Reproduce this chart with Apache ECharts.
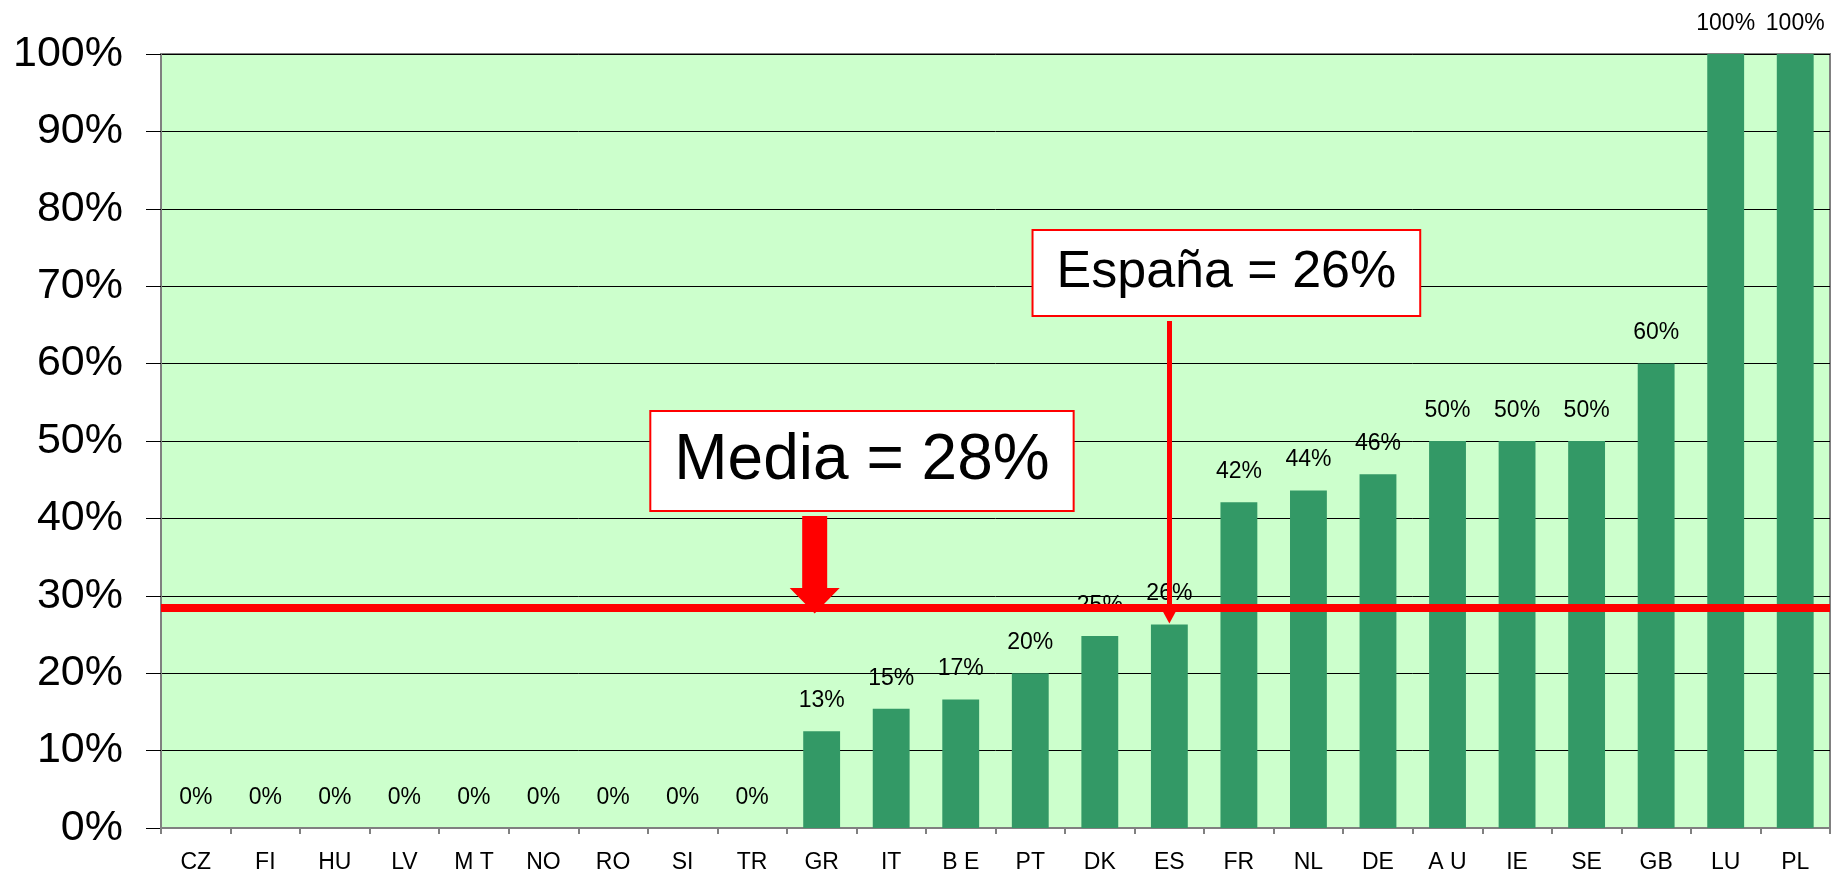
<!DOCTYPE html>
<html>
<head>
<meta charset="utf-8">
<script src="https://cdn.jsdelivr.net/npm/echarts@6/dist/echarts.min.js"></script>
<style>
  html, body { margin: 0; padding: 0; background: #fff; }
  #chart { width: 1833px; height: 874px; }
</style>
</head>
<body>
<div id="chart"></div>
<script>
// países, ordenados de menor a mayor
const countries = ['CZ', 'FI', 'HU', 'LV', 'M T', 'NO', 'RO', 'SI', 'TR', 'GR', 'IT', 'B E',
  'PT', 'DK', 'ES', 'FR', 'NL', 'DE', 'A U', 'IE', 'SE', 'GB', 'LU', 'PL'];
// porcentaje por país
const values = [0, 0, 0, 0, 0, 0, 0, 0, 0, 12.5, 15.4, 16.6,
  20, 24.8, 26.3, 42.1, 43.6, 45.7, 50, 50, 50, 60, 100, 100];
// marcas del eje y
const yTicks = [0, 10, 20, 30, 40, 50, 60, 70, 80, 90, 100];

// valor medio y valor de España
const mediaValue = 28.5;
const espanaIndex = 14;
const mediaText = 'Media = 28%';
const espanaText = 'España = 26%';

const FONT = "'Liberation Sans', Arial, sans-serif";

const chart = echarts.init(document.getElementById('chart'));

const options = {
  animation: false,
  backgroundColor: '#fff',
  grid: {
    left: 161, right: 3, top: 54, bottom: 45,
    show: true,
    backgroundColor: '#ccffcc',
    borderColor: '#808080',
    borderWidth: 2
  },
  xAxis: {
    type: 'category',
    data: countries,
    axisLine: { lineStyle: { color: '#808080', width: 2 } },
    axisTick: { show: true, length: 6, lineStyle: { color: '#808080', width: 2 } },
    axisLabel: {
      interval: 0, margin: 23,
      color: '#000', fontSize: 23, fontFamily: FONT
    },
    splitLine: { show: false }
  },
  yAxis: {
    type: 'value',
    min: yTicks[0],
    max: yTicks[yTicks.length - 1],
    interval: 10,
    axisLine: { show: true, lineStyle: { color: '#808080', width: 2 } },
    axisTick: { show: true, length: 15, lineStyle: { color: '#000', width: 1 } },
    axisLabel: {
      formatter: '{value}%',
      margin: 38,
      color: '#000', fontSize: 43, fontFamily: FONT
    },
    splitLine: { show: true, lineStyle: { color: '#000', width: 1 } }
  },
  series: [
    {
      type: 'bar',
      data: values,
      barWidth: '53%',
      itemStyle: { color: '#339966' },
      label: {
        show: true,
        position: 'top',
        distance: 19,
        color: '#000',
        fontSize: 23,
        fontFamily: FONT,
        formatter: (p) => Math.round(p.value) + '%'
      },
      markLine: {
        silent: true,
        animation: false,
        symbol: 'none',
        label: { show: false },
        data: [
          // línea de la media
          { yAxis: mediaValue, lineStyle: { color: '#ff0000', width: 8, type: 'solid' } },
          // flecha de España
          [
            { coord: [espanaIndex, 65.5], symbol: 'none', lineStyle: { color: '#ff0000', width: 5, type: 'solid' } },
            { coord: [espanaIndex, 27.2], symbol: 'triangle', symbolSize: [13, 12] }
          ]
        ]
      }
    }
  ]
};

chart.setOption(options);

// posición en píxeles para un índice de categoría (puede ser fraccional) y un valor
function toPx(idx, val) {
  const i0 = Math.floor(idx), i1 = Math.min(i0 + 1, countries.length - 1);
  const x0 = chart.convertToPixel({ xAxisIndex: 0 }, i0);
  const x1 = chart.convertToPixel({ xAxisIndex: 0 }, i1);
  const x = x0 + (x1 - x0) * (idx - i0);
  const y = chart.convertToPixel({ yAxisIndex: 0 }, val);
  return [x, y];
}

// flecha gruesa de la media, recuadros de texto
const arrowTop = toPx(8.9, 40.3);
const arrowTip = toPx(8.9, mediaValue - 0.8);
const headY = toPx(8.9, mediaValue + 2.5)[1];
const shaftHalf = 12.5, headHalf = 25;
const ax = arrowTop[0];

const mediaPos = toPx(9.58, 47.4);
const espanaPos = toPx(14.82, 71.7);

chart.setOption({
  graphic: [
    {
      type: 'polygon',
      z: 100,
      shape: {
        points: [
          [ax - shaftHalf, arrowTop[1]], [ax + shaftHalf, arrowTop[1]],
          [ax + shaftHalf, headY], [ax + headHalf, headY],
          [ax, arrowTip[1]],
          [ax - headHalf, headY], [ax - shaftHalf, headY]
        ]
      },
      style: { fill: '#ff0000' }
    },
    {
      type: 'text',
      z: 100,
      x: mediaPos[0], y: mediaPos[1],
      style: {
        text: mediaText,
        fontSize: 64, fontFamily: FONT, fill: '#000',
        align: 'center', verticalAlign: 'middle',
        backgroundColor: '#fff',
        borderColor: '#ff0000', borderWidth: 2,
        padding: [17, 23, 17, 23]
      }
    },
    {
      type: 'text',
      z: 100,
      x: espanaPos[0], y: espanaPos[1],
      style: {
        text: espanaText,
        fontSize: 52, fontFamily: FONT, fill: '#000',
        align: 'center', verticalAlign: 'middle',
        backgroundColor: '#fff',
        borderColor: '#ff0000', borderWidth: 2,
        padding: [16, 23, 16, 23]
      }
    }
  ]
});

window.addEventListener('resize', () => chart.resize(), false);
</script>
</body>
</html>
